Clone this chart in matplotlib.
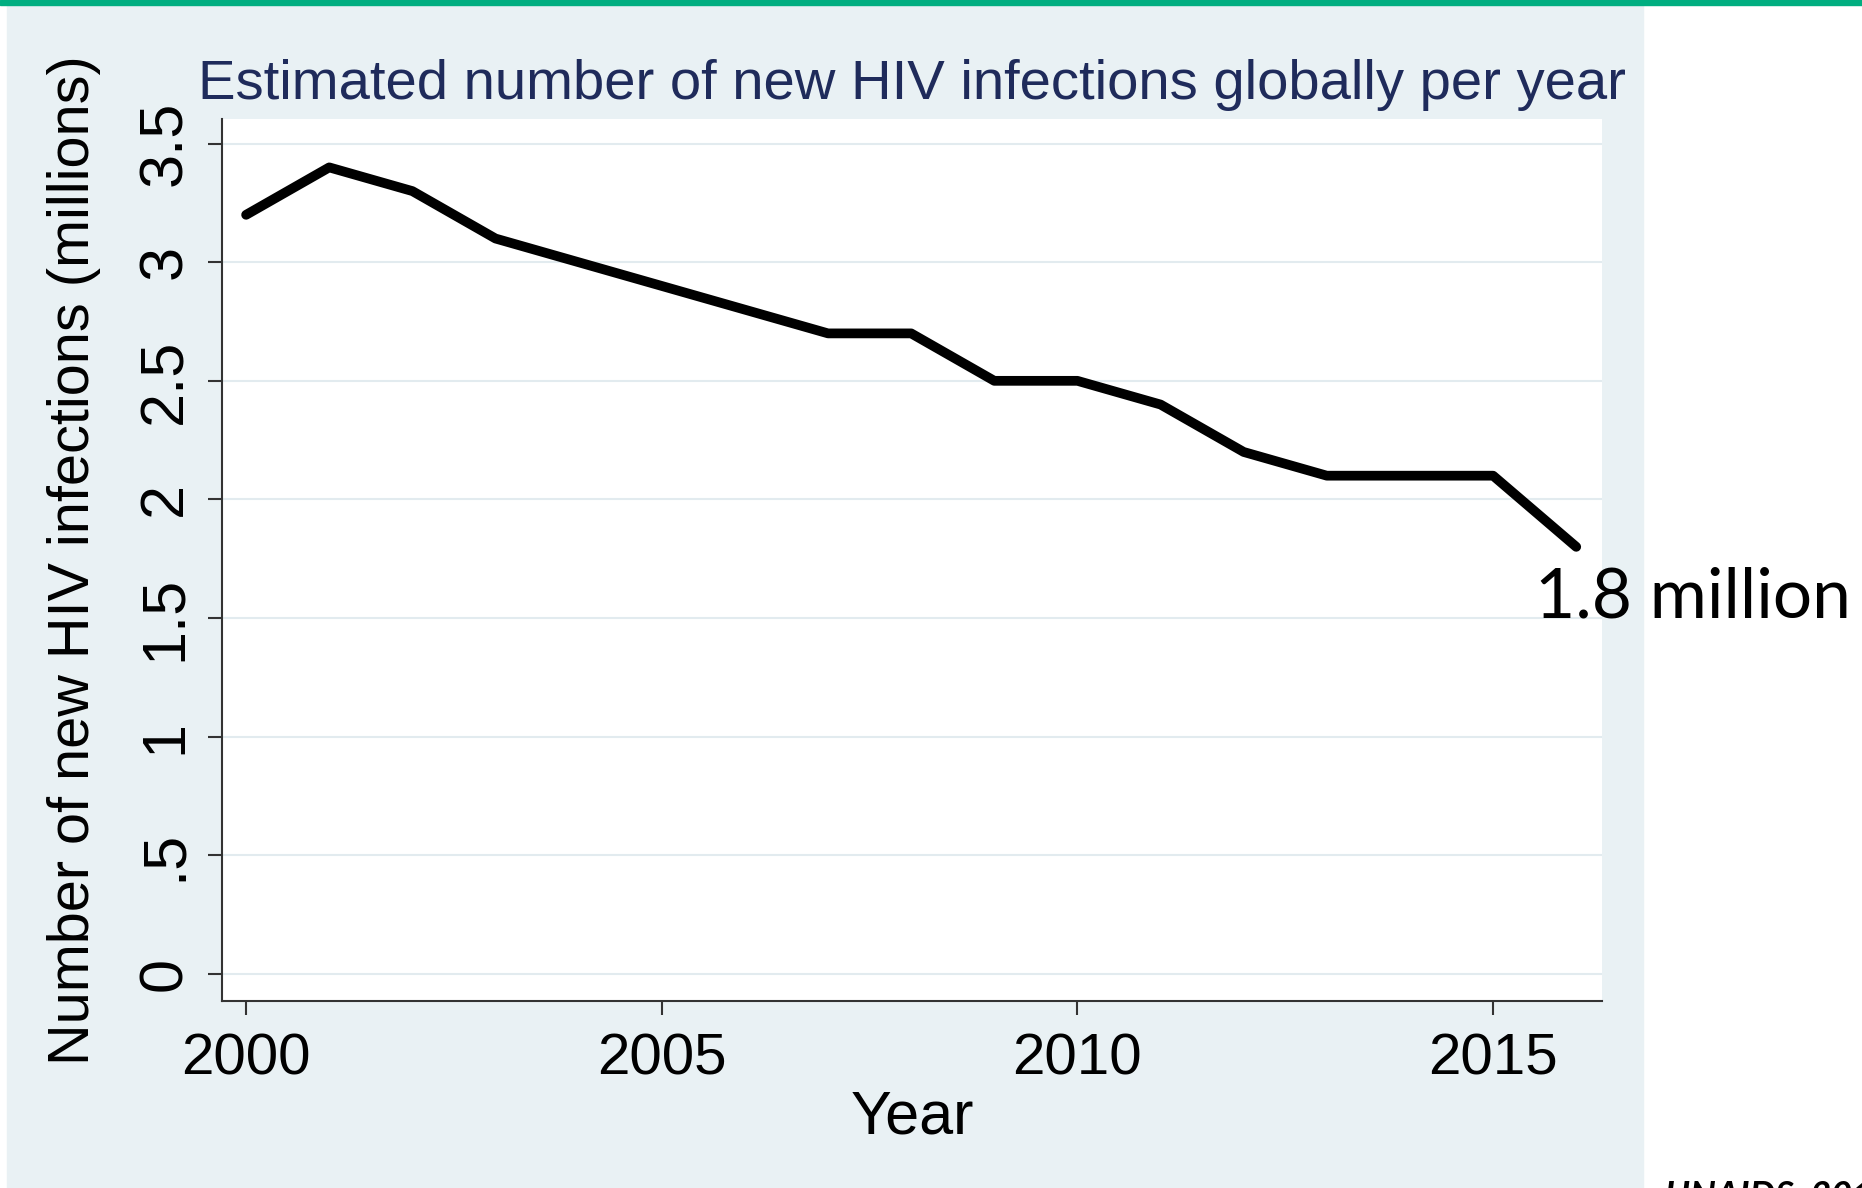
import matplotlib
matplotlib.use("Agg")
import matplotlib.pyplot as plt
from matplotlib.patches import Rectangle

# yearly estimates, millions of new infections
years = [2000, 2001, 2002, 2003, 2004, 2005, 2006, 2007, 2008,
         2009, 2010, 2011, 2012, 2013, 2014, 2015, 2016]
new_infections = [3.2, 3.4, 3.3, 3.1, 3.0, 2.9, 2.8, 2.7, 2.7,
                  2.5, 2.5, 2.4, 2.2, 2.1, 2.1, 2.1, 1.8]

x_ticks = [2000, 2005, 2010, 2015]
y_ticks = [0, 0.5, 1, 1.5, 2, 2.5, 3, 3.5]
y_tick_labels = ["0", ".5", "1", "1.5", "2", "2.5", "3", "3.5"]

title = "Estimated number of new HIV infections globally per year"
y_title = "Number of new HIV infections (millions)"
source = "UNAIDS, 2017"

W, H = 1862, 1188
panel_color = "#E9F1F4"
grid_color = "#E2EBEF"
axis_color = "#333333"
title_color = "#1F2B5B"
green = "#00AE80"

plt.rcParams["font.family"] = ["Liberation Sans", "DejaVu Sans"]

fig = plt.figure(figsize=(W / 100, H / 100), dpi=100, facecolor="white")

# slide background: grey-blue panel and the green bar along the top
fig.patches.append(Rectangle((7 / W, 0), (1643 - 7) / W, 1 - 5 / H,
                             transform=fig.transFigure, color=panel_color, zorder=-10))
fig.patches.append(Rectangle((0, 1 - 5 / H), 1, 5 / H,
                             transform=fig.transFigure, color=green, zorder=-10))

ax = fig.add_axes([222 / W, 1 - 1001 / H, (1602 - 222) / W, (1001 - 119) / H])
ax.set_zorder(2)
ax.set_facecolor("white")

ax.plot(years, new_infections, color="black", linewidth=7,
        solid_capstyle="round", solid_joinstyle="round", zorder=3)

ax.set_xlim(1999.71, 2016.31)
ax.set_ylim(-0.115, 3.604)

ax.set_xticks(x_ticks)
ax.set_yticks(y_ticks)
ax.set_yticklabels(y_tick_labels, rotation=90, va="center", fontsize=44)
ax.tick_params(axis="both", length=10, width=1.5, color=axis_color)
ax.tick_params(axis="x", labelsize=42, pad=13)
ax.tick_params(axis="y", pad=10)

ax.grid(axis="y", color=grid_color, linewidth=1.5)
ax.set_axisbelow(True)

for side in ["top", "right"]:
    ax.spines[side].set_visible(False)
for side in ["left", "bottom"]:
    ax.spines[side].set_color(axis_color)
    ax.spines[side].set_linewidth(1.5)

ax.set_title(title, fontsize=40.5, color=title_color, pad=14.5)
ax.set_ylabel(y_title, fontsize=41.5, labelpad=26)
ax.set_xlabel("Year", fontsize=44, labelpad=2)

# label the latest value next to the end of the line
ax.text(2015.5, 1.504, f"{new_infections[-1]} million", fontsize=50,
        family=["Lato", "DejaVu Sans"], ha="left", va="baseline",
        clip_on=False, zorder=4)

fig.text(1665 / W, 1 - 1207 / H, source, fontsize=26, fontweight="bold",
         fontstyle="italic", family=["Lato", "DejaVu Sans"],
         ha="left", va="baseline")

fig.savefig("out.png", dpi=100)
